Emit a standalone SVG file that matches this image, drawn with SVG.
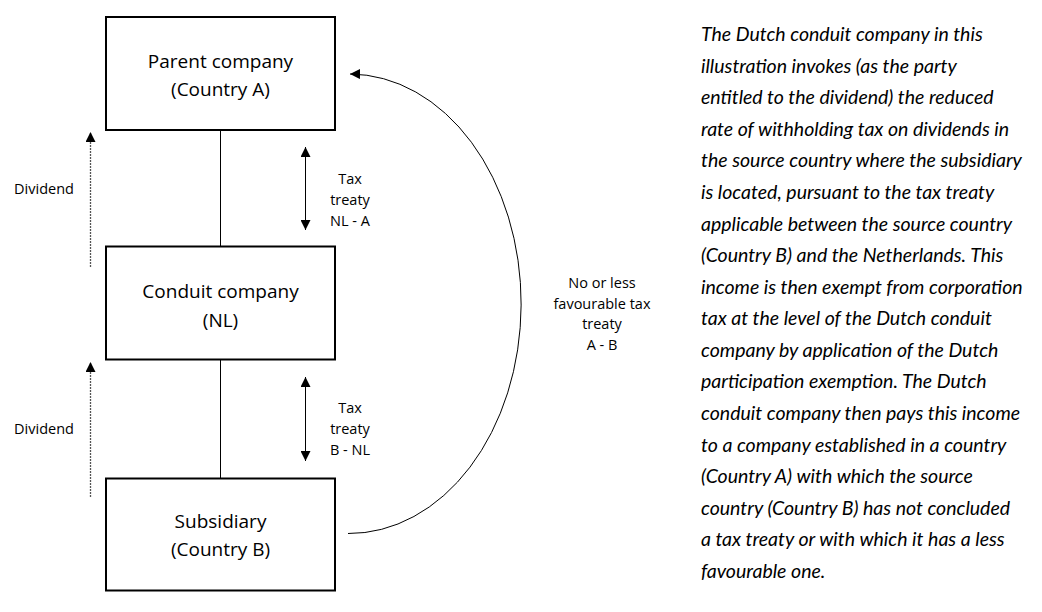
<svg xmlns="http://www.w3.org/2000/svg" width="1042" height="612" viewBox="0 0 1042 612">
<defs>
<style>
.box{fill:#fff;stroke:#000;stroke-width:2}
.lbl{font-family:"Open Sans","Liberation Sans",sans-serif;font-size:19px;fill:#000;text-anchor:middle}
.sm{font-family:"Open Sans","Liberation Sans",sans-serif;font-size:14.5px;fill:#000;text-anchor:middle}
.line{stroke:#000;stroke-width:1;fill:none}
.div{stroke:#555;stroke-width:1.3;stroke-dasharray:2 1;fill:none}
.body{font-family:Lato,"Liberation Sans",sans-serif;font-style:italic;font-size:19.5px;fill:#000}
</style>
<marker id="ah" viewBox="0 0 10 10" refX="10" refY="5" markerWidth="10" markerHeight="10" markerUnits="userSpaceOnUse" orient="auto-start-reverse">
<path d="M0 0 L10 5 L0 10 Z" fill="#000"/>
</marker>
</defs>
<rect width="1042" height="612" fill="#fff"/>
<g id="connectors">
<line class="line" x1="220.5" y1="130" x2="220.5" y2="246.5"/>
<line class="line" x1="220.5" y1="359.5" x2="220.5" y2="478.5"/>
<line class="div" x1="90.5" y1="267" x2="90.5" y2="132" marker-end="url(#ah)"/>
<line class="div" x1="90.5" y1="497" x2="90.5" y2="362" marker-end="url(#ah)"/>
<line class="line" x1="305.5" y1="147" x2="305.5" y2="230" marker-start="url(#ah)" marker-end="url(#ah)"/>
<line class="line" x1="305.5" y1="377" x2="305.5" y2="461" marker-start="url(#ah)" marker-end="url(#ah)"/>
<path class="line" d="M348 533.5 A172 229.5 0 0 0 350 74" marker-end="url(#ah)"/>
</g>
<g id="parent">
<rect class="box" x="106" y="17" width="229" height="113"/>
<text class="lbl" x="220.5" y="67.5">Parent company</text>
<text class="lbl" x="220.5" y="95.5">(Country A)</text>
</g>
<g id="conduit">
<rect class="box" x="106" y="246.5" width="229" height="113"/>
<text class="lbl" x="220.5" y="298">Conduit company</text>
<text class="lbl" x="220.5" y="326.5">(NL)</text>
</g>
<g id="subsidiary">
<rect class="box" x="106" y="478.5" width="229" height="112"/>
<text class="lbl" x="220.5" y="528">Subsidiary</text>
<text class="lbl" x="220.5" y="556">(Country B)</text>
</g>
<g id="labels">
<text class="sm" x="44" y="194">Dividend</text>
<text class="sm" x="44" y="434">Dividend</text>
<text class="sm" x="350" y="184">Tax</text>
<text class="sm" x="350" y="205">treaty</text>
<text class="sm" x="350" y="226">NL - A</text>
<text class="sm" x="350" y="413">Tax</text>
<text class="sm" x="350" y="434">treaty</text>
<text class="sm" x="350" y="455">B - NL</text>
<text class="sm" x="602" y="288">No or less</text>
<text class="sm" x="602" y="308.5">favourable tax</text>
<text class="sm" x="602" y="329">treaty</text>
<text class="sm" x="602" y="349.5">A - B</text>
</g>
<g id="description" class="body">
<text x="701" y="41">The Dutch conduit company in this</text>
<text x="701" y="72.5">illustration invokes (as the party</text>
<text x="701" y="104">entitled to the dividend) the reduced</text>
<text x="701" y="135.5">rate of withholding tax on dividends in</text>
<text x="701" y="167">the source country where the subsidiary</text>
<text x="701" y="199">is located, pursuant to the tax treaty</text>
<text x="701" y="230.5">applicable between the source country</text>
<text x="701" y="262">(Country B) and the Netherlands. This</text>
<text x="701" y="293.5">income is then exempt from corporation</text>
<text x="701" y="325">tax at the level of the Dutch conduit</text>
<text x="701" y="356.5">company by application of the Dutch</text>
<text x="701" y="388">participation exemption. The Dutch</text>
<text x="701" y="420">conduit company then pays this income</text>
<text x="701" y="451.5">to a company established in a country</text>
<text x="701" y="483">(Country A) with which the source</text>
<text x="701" y="514.5">country (Country B) has not concluded</text>
<text x="701" y="546">a tax treaty or with which it has a less</text>
<text x="701" y="577.5">favourable one.</text>
</g>
</svg>
